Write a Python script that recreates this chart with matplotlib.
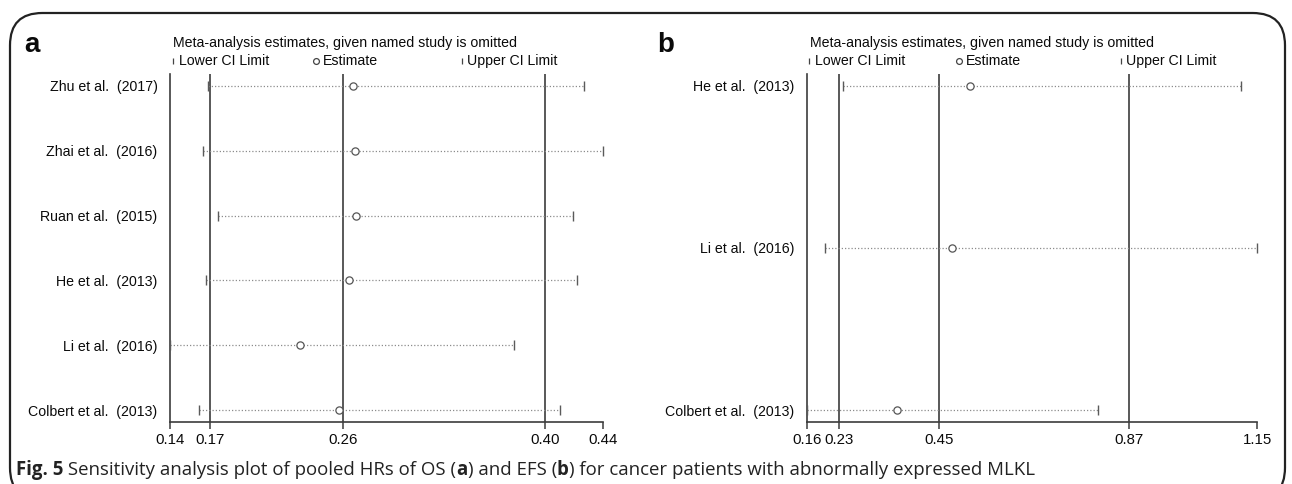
import matplotlib
matplotlib.use("Agg")
import matplotlib.pyplot as plt
from matplotlib.patches import FancyBboxPatch

# ---- data: leave-one-out estimates (HR with 95% CI) ----
os_studies = ["Zhu et al.  (2017)", "Zhai et al.  (2016)", "Ruan et al.  (2015)",
              "He et al.  (2013)", "Li et al.  (2016)", "Colbert et al.  (2013)"]
os_lower = [0.166, 0.163, 0.173, 0.165, 0.140, 0.160]
os_est = [0.267, 0.268, 0.269, 0.264, 0.230, 0.257]
os_upper = [0.427, 0.440, 0.419, 0.422, 0.378, 0.410]
os_overall = [0.168, 0.260, 0.400]          # lower CI, estimate, upper CI
os_range = [0.14, 0.44]

efs_studies = ["He et al.  (2013)", "Li et al.  (2016)", "Colbert et al.  (2013)"]
efs_lower = [0.239, 0.200, 0.160]
efs_est = [0.519, 0.480, 0.357]
efs_upper = [1.114, 1.150, 0.800]
efs_overall = [0.231, 0.450, 0.868]
efs_range = [0.16, 1.15]

W, H = 1292, 484
FONT = "Liberation Sans"
DARK = "#3c3c3c"
TEXT = "#0a0a0a"
plt.rcParams["font.family"] = [FONT, "DejaVu Sans"]

fig = plt.figure(figsize=(W / 100, H / 100), dpi=100)


def fx(px):
    return px / W


def fy(py):
    return 1 - py / H


# rounded frame around the figure
frame = FancyBboxPatch((fx(10), fy(500)), fx(1285) - fx(10), fy(13) - fy(500),
                       boxstyle="round,pad=0,rounding_size=0.025",
                       transform=fig.transFigure, fill=False,
                       edgecolor="#222222", linewidth=1.6, clip_on=False,
                       mutation_aspect=W / H)
fig.patches.append(frame)


def panel(left_px, right_px, letter, letter_x, studies, lo, est, hi, overall, xr,
          legend_x, pad):
    top_px, bottom_px = 74, 422
    ax = fig.add_axes([fx(left_px), fy(bottom_px), fx(right_px) - fx(left_px),
                       fy(top_px) - fy(bottom_px)])
    n = len(studies)
    ax.set_ylim(n - 1 + pad, -pad)
    ax.set_xlim(xr[0], xr[1])
    ys = list(range(n))

    for v in overall:
        ax.axvline(v, color=DARK, lw=1.2, zorder=1)

    for y, l, e, h in zip(ys, lo, est, hi):
        ax.plot([l, h], [y, y], color="#8c8c8c", lw=0.9,
                linestyle=(0, (1, 1.6)), zorder=2, clip_on=False)
        ax.plot([l, h], [y, y], linestyle="none", marker="|", markersize=7,
                mew=1.0, color="#5a5a5a", zorder=3, clip_on=False)
        ax.plot([e], [y], linestyle="none", marker="o", markersize=5.2,
                mfc="white", mec="#555555", mew=0.9, zorder=4, clip_on=False)

    for s in ("top", "right"):
        ax.spines[s].set_visible(False)
    for s in ("left", "bottom"):
        ax.spines[s].set_color(DARK)
        ax.spines[s].set_linewidth(1.2)
    ax.set_yticks(ys)
    ax.set_yticklabels(studies, fontsize=10.2, color=TEXT)
    ax.tick_params(axis="y", length=0, pad=9)
    ticks = [xr[0]] + overall + [xr[1]]
    ax.set_xticks(ticks)
    ax.set_xticklabels([f"{t:.2f}" for t in ticks], fontsize=10.8, color=TEXT)
    ax.tick_params(axis="x", length=5, width=1.1, color=DARK, pad=3)

    ax.text(0.007, 1.089, "Meta-analysis estimates, given named study is omitted",
            transform=ax.transAxes, fontsize=10.2, va="center", ha="left",
            color=TEXT)
    ly = 1.037
    names = ["Lower CI Limit", "Estimate", "Upper CI Limit"]
    marks = ["|", "o", "|"]
    for x, name, m in zip(legend_x, names, marks):
        if m == "|":
            ax.plot([x], [ly], marker="|", markersize=4.5, mew=0.9,
                    color="#444444", transform=ax.transAxes, clip_on=False)
            tx = x + 0.013
        else:
            ax.plot([x], [ly], marker="o", markersize=4.2, mfc="white",
                    mec="#444444", mew=0.9, transform=ax.transAxes,
                    clip_on=False)
            tx = x + 0.016
        ax.text(tx, ly, name, transform=ax.transAxes, fontsize=10.2,
                va="center", ha="left", color=TEXT)

    fig.text(fx(letter_x), fy(52), letter, fontsize=20, fontweight="bold",
             ha="left", va="baseline", color=TEXT)
    return ax


panel(170, 603, "a", 24, os_studies, os_lower, os_est, os_upper, os_overall,
      os_range, [0.007, 0.337, 0.674], 0.18)
panel(807, 1257, "b", 657, efs_studies, efs_lower, efs_est, efs_upper,
      efs_overall, efs_range, [0.004, 0.338, 0.697], 0.074)

# caption with bold runs
caption = [("Fig. 5", "bold"),
           (" Sensitivity analysis plot of pooled HRs of OS (", "normal"),
           ("a", "bold"), (") and EFS (", "normal"), ("b", "bold"),
           (") for cancer patients with abnormally expressed MLKL", "normal")]
fig.canvas.draw()
renderer = fig.canvas.get_renderer()
x = fx(16)
for txt, wt in caption:
    t = fig.text(x, fy(470), txt, fontsize=13.4, fontweight=wt,
                 family=["Open Sans", "DejaVu Sans"], ha="left",
                 va="center", color="#222222")
    bb = t.get_window_extent(renderer=renderer)
    x += bb.width / W

fig.savefig("out.png", dpi=100)
